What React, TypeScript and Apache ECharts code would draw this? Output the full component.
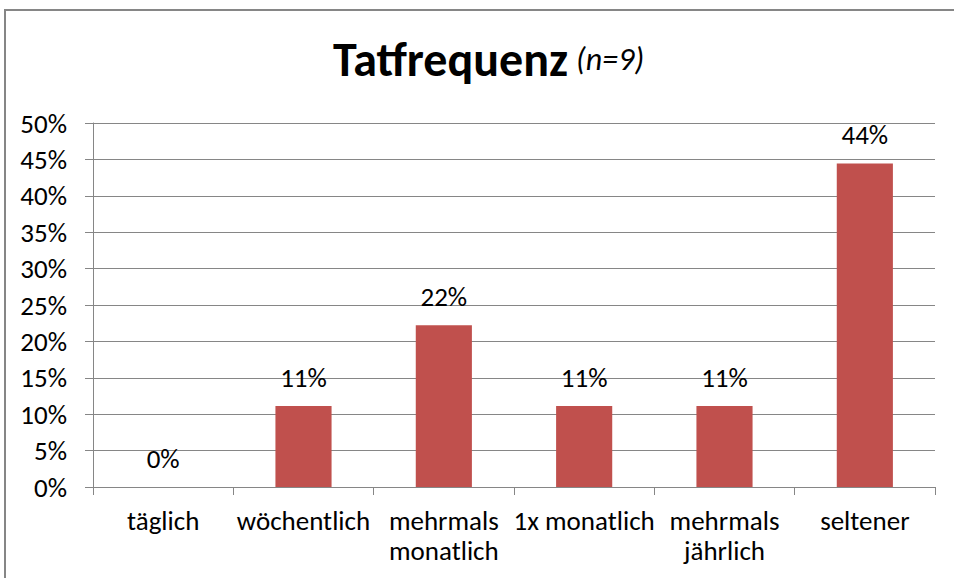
import React, { useEffect, useRef } from "react";
import * as echarts from "echarts";

const categories = ["täglich", "wöchentlich", "mehrmals\nmonatlich", "1x monatlich", "mehrmals\njährlich", "seltener"];
const values = [0, 11.11, 22.22, 11.11, 11.11, 44.44];
const labels = ["0%", "11%", "22%", "11%", "11%", "44%"];
const yTicks = [0, 5, 10, 15, 20, 25, 30, 35, 40, 45, 50];

const FONT = "Carlito, Calibri, 'Open Sans', sans-serif";

export default function App() {
  const ref = useRef<HTMLDivElement>(null);
  useEffect(() => {
    if (!ref.current) return;
    const chart = echarts.init(ref.current, null, { renderer: "svg" });
    chart.setOption({
      animation: false,
      backgroundColor: "#ffffff",
      textStyle: { fontFamily: FONT },
      title: {
        text: "{a|Tatfrequenz}  {b|(n=9)}",
        left: 328,
        top: 30,
        textStyle: {
          rich: {
            a: { fontFamily: FONT, fontSize: 48, fontWeight: "bold", color: "#000" },
            b: { fontFamily: FONT, fontSize: 32, fontStyle: "italic", fontWeight: "normal", color: "#000" },
          },
        },
      },
      graphic: [
        {
          type: "rect",
          shape: { x: 5, y: 10, width: 1000, height: 700 },
          style: { fill: "none", stroke: "#868686", lineWidth: 2 },
          silent: true,
        },
      ],
      grid: { left: 93, right: 19, top: 123, bottom: 91, containLabel: false },
      xAxis: {
        type: "category",
        data: categories,
        axisLine: { show: true, lineStyle: { color: "#868686", width: 1 } },
        axisTick: { show: true, length: 8, lineStyle: { color: "#868686" } },
        axisLabel: {
          interval: 0,
          color: "#000",
          fontSize: 27,
          fontFamily: FONT,
          margin: 18,
          lineHeight: 30,
        },
      },
      yAxis: {
        type: "value",
        min: 0,
        max: 50,
        interval: 5,
        axisLine: { show: true, lineStyle: { color: "#868686", width: 1 } },
        axisTick: { show: true, length: 8, lineStyle: { color: "#868686" } },
        splitLine: { show: true, lineStyle: { color: "#868686", width: 1 } },
        axisLabel: {
          color: "#000",
          fontSize: 27,
          fontFamily: FONT,
          margin: 26,
          formatter: (v: number) => (yTicks.includes(v) ? v + "%" : ""),
        },
      },
      series: [
        {
          type: "bar",
          data: values,
          barWidth: "40%",
          itemStyle: { color: "#C0504D" },
          label: {
            show: true,
            position: "top",
            distance: 15,
            color: "#000",
            fontSize: 27,
            fontFamily: FONT,
            formatter: (p: any) => labels[p.dataIndex],
          },
        },
      ],
    });
    return () => chart.dispose();
  }, []);
  return <div ref={ref} style={{ position: "fixed", left: 0, top: 0, width: 954, height: 578 }} />;
}
